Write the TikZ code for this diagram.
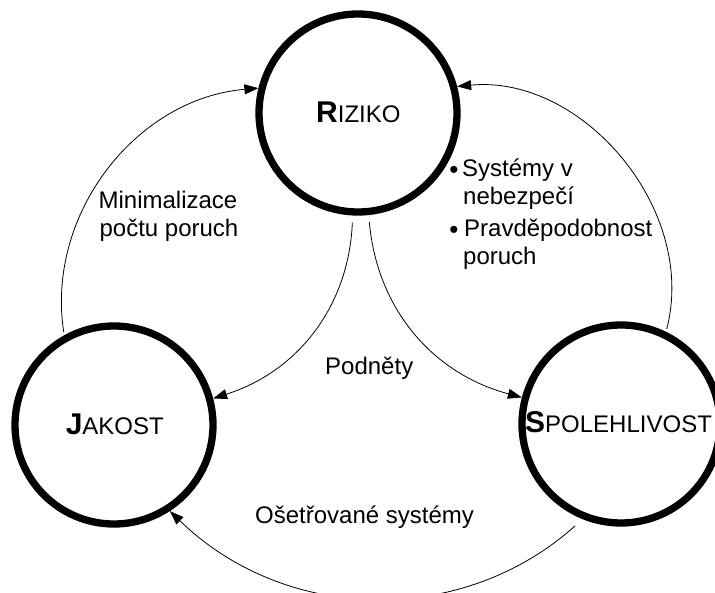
\documentclass[tikz,border=0pt]{standalone}
\usepackage{fontspec}
\setmainfont{Liberation Sans}
\usetikzlibrary{arrows.meta}
\tikzset{
  bigcirc/.style={circle, draw, line width=7.3pt, minimum size=198pt, inner sep=0pt},
  conn/.style={line width=0.8pt, -{Triangle[length=14pt,width=10pt]}},
  lbl/.style={inner sep=0pt, font=\fontsize{24pt}{28pt}\selectfont},
  bul/.style={inner sep=0pt, font=\fontsize{26pt}{28pt}\selectfont},
}
\newcommand{\bigini}[1]{{\fontsize{30pt}{30pt}\selectfont\bfseries #1}}
\begin{document}
\begin{tikzpicture}[x=1pt,y=1pt]
\useasboundingbox (0,0) rectangle (715,592);
% circles
\node[bigcirc] (R) at (358,479) {};
\node[bigcirc] (J) at (114,167) {};
\node[bigcirc] (S) at (621,168) {};
% circle titles
\node[lbl, anchor=base west] (tR) at (316,469) {\bigini{R}IZIKO};
\node[lbl, anchor=base east] (tJ) at (164,157) {\bigini{J}AKOST};
\node[lbl, anchor=base west] (tS) at (525,159) {\bigini{S}POLEHLIVOST};
% connectors
\draw[conn, shorten <=3pt] (J.119) to[bend left=47] (R.166);
\draw[conn, shorten <=3pt] (S.64) to[bend right=55] (R.15);
\draw[conn, shorten <=7pt] (R.267) to[bend left=35] (J.15);
\draw[conn, shorten <=7pt] (R.276) to[bend right=35] (S.165);
\draw[conn, shorten <=10pt] (S.248) to[bend left=43] (J.303);
% labels
\node[lbl, anchor=base] (m1) at (168,383) {Minimalizace};
\node[lbl, anchor=base] (m2) at (169,355) {počtu poruch};
\node[bul] (b1) at (454,420) {•};
\node[lbl, anchor=base west] (s1) at (462,415) {Systémy v};
\node[lbl, anchor=base west] (s2) at (463,387) {nebezpečí};
\node[bul] (b2) at (454,360) {•};
\node[lbl, anchor=base west] (s3) at (464,355) {Pravděpodobnost};
\node[lbl, anchor=base west] (s4) at (463,327) {poruch};
\node[lbl, anchor=base west] (pod) at (325,217) {Podněty};
\node[lbl, anchor=base west] (os) at (255,69) {Ošetřované systémy};
\end{tikzpicture}
\end{document}
